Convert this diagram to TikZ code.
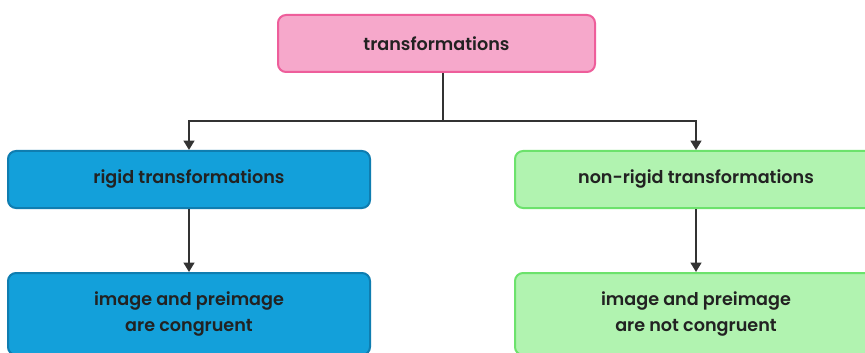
\documentclass[tikz,border=0pt]{standalone}
\usepackage{fontspec}
\setmainfont{Poppins SemiBold}
\usetikzlibrary{arrows.meta,calc}
\definecolor{pinkfill}{HTML}{F6A8CB}
\definecolor{pinkdraw}{HTML}{EE5E9B}
\definecolor{bluefill}{HTML}{13A0DA}
\definecolor{bluedraw}{HTML}{0F7DB0}
\definecolor{greenfill}{HTML}{B1F3B0}
\definecolor{greendraw}{HTML}{6CE26C}
\definecolor{txt}{HTML}{222222}
\definecolor{linec}{HTML}{333333}
\tikzset{
  box/.style={rounded corners=6pt, line width=1.5pt, align=center, text=txt,
    font=\fontsize{13.2pt}{19.5pt}\selectfont, inner sep=0pt},
  topbox/.style={box, fill=pinkfill, draw=pinkdraw, minimum width=237.75pt, minimum height=42.75pt},
  bluebox/.style={box, fill=bluefill, draw=bluedraw, minimum width=271.5pt},
  greenbox/.style={box, fill=greenfill, draw=greendraw, minimum width=271.5pt},
  conn/.style={draw=linec, line width=1.5pt},
  arr/.style={conn, -{Triangle[width=8pt,length=7pt]}}
}
\begin{document}
\begin{tikzpicture}[x=0.75pt,y=-0.75pt]
\useasboundingbox (0,0) rectangle (865,353);
\clip (0,0) rectangle (865,353);
\fill[white] (0,0) rectangle (865,353);
\node[topbox] (top) at (436.5,43.5) {transformations};
\node[bluebox, minimum height=42.75pt] (lm) at (189,179.5) {rigid transformations};
\node[greenbox, minimum height=42.75pt] (rm) at (696,179.5) {non-rigid transformations};
\node[bluebox, minimum height=61.5pt] (lb) at (189,314) {image and preimage\\are congruent};
\node[greenbox, minimum height=61.5pt] (rb) at (696,314) {image and preimage\\are not congruent};
\coordinate (mid) at ($(lm.north)!0.5!(rm.north)$);
\coordinate (junc) at (mid |- 0,121);
\draw[conn] (mid |- top.south) -- (junc);
\draw[arr] (junc) -| (lm.north);
\draw[arr] (junc) -| (rm.north);
\draw[arr] (lm) -- (lb);
\draw[arr] (rm) -- (rb);
\end{tikzpicture}
\end{document}
